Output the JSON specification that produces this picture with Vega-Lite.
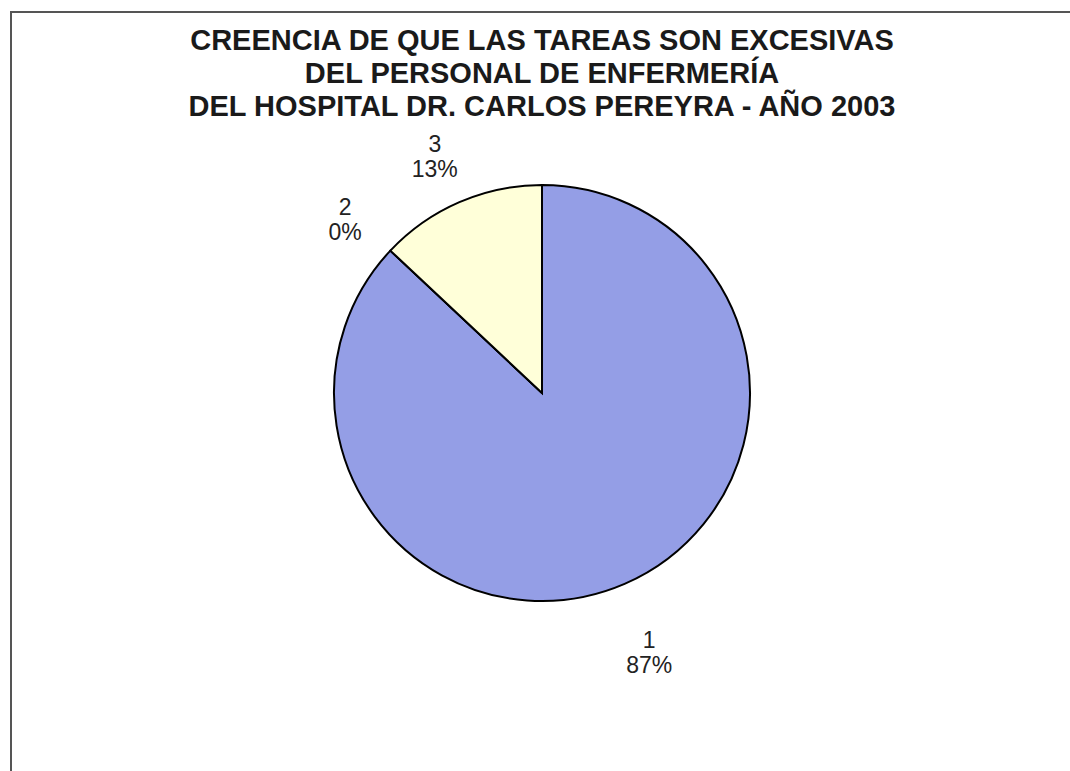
{
  "$schema": "https://vega.github.io/schema/vega-lite/v6.json",
  "autosize": "none",
  "padding": {"left": 11, "top": 12, "right": 0, "bottom": 0},
  "width": 1062,
  "height": 762,
  "background": "white",
  "view": {"stroke": "#555555", "strokeWidth": 2, "fill": "white"},
  "config": {
    "font": "Liberation Sans"
  },
  "title": {
    "text": ["CREENCIA DE QUE LAS TAREAS SON EXCESIVAS", "DEL PERSONAL DE ENFERMERÍA", "DEL HOSPITAL DR. CARLOS PEREYRA - AÑO 2003"],
    "font": "Liberation Sans",
    "fontSize": 29,
    "fontWeight": "bold",
    "lineHeight": 33,
    "color": "#1a1a1a",
    "anchor": "middle",
    "frame": "group",
    "offset": -110
  },
  "data": {
    "values": [
      {"categoria": "1", "porcentaje": 87, "etiqueta": "1\n87%"},
      {"categoria": "2", "porcentaje": 0, "etiqueta": "2\n0%"},
      {"categoria": "3", "porcentaje": 13, "etiqueta": "3\n13%"}
    ]
  },
  "encoding": {
    "theta": {"field": "porcentaje", "type": "quantitative", "stack": true},
    "order": {"field": "categoria", "type": "ordinal", "sort": "ascending"}
  },
  "layer": [
    {
      "mark": {"type": "arc", "outerRadius": 208, "stroke": "#000000", "strokeWidth": 2},
      "encoding": {
        "color": {
          "field": "categoria",
          "type": "nominal",
          "scale": {"domain": ["1", "2", "3"], "range": ["#949EE6", "#8FA0D8", "#FFFFD9"]},
          "legend": null
        }
      }
    },
    {
      "mark": {"type": "text", "radius": 270, "fontSize": 23, "lineBreak": "\n", "lineHeight": 25, "color": "#222222", "font": "Liberation Sans"},
      "encoding": {
        "text": {"field": "etiqueta", "type": "nominal"}
      }
    }
  ]
}
